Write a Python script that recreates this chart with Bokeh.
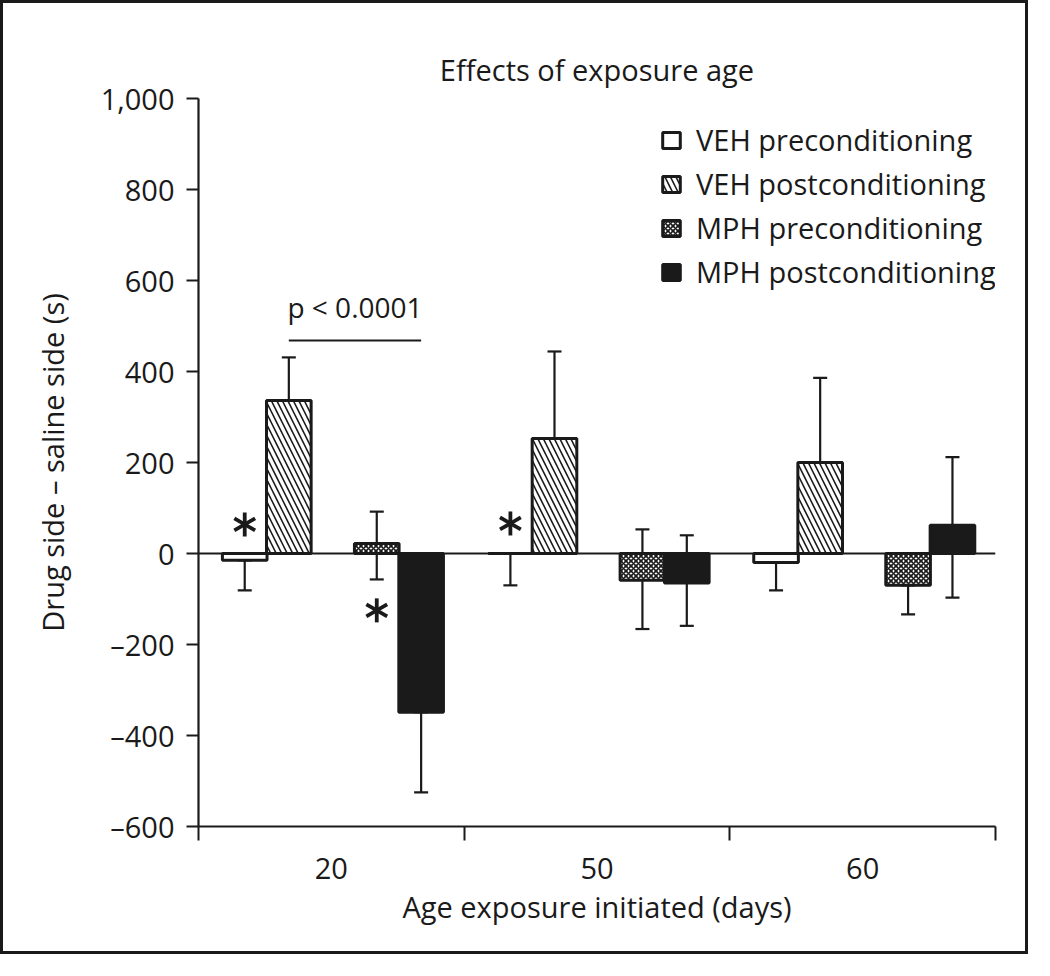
from bokeh.plotting import figure
from bokeh.models import (Range1d, FixedTicker, Legend, LegendItem, Label, Span,
                          ColumnDataSource, Whisker, TeeHead)
from bokeh.embed import file_html
from bokeh.resources import INLINE
import math

# ---------------- data ----------------
ages = ["20", "50", "60"]
series_names = ["VEH preconditioning", "VEH postconditioning",
                "MPH preconditioning", "MPH postconditioning"]
veh_pre = [-15, 0, -20]
veh_post = [336, 253, 200]
mph_pre = [22, -59, -70]
mph_post = [-349, -65, 62]
# error bar ends (upper, lower)
veh_pre_hi = [-15, 0, -20]
veh_pre_lo = [-81, -70, -81]
veh_post_hi = [431, 444, 386]
veh_post_lo = [336, 253, 200]
mph_pre_hi = [92, 53, -70]
mph_pre_lo = [-57, -166, -134]
mph_post_hi = [-349, 40, 212]
mph_post_lo = [-525, -159, -97]
y_ticks = [-600, -400, -200, 0, 200, 400, 600, 800, 1000]
y_tick_labels = ["\u2013600", "\u2013400", "\u2013200", "0", "200", "400", "600", "800", "1,000"]
p_text = "p < 0.0001"
p_bracket_y = 468
star_y = [64, -125, 66]

FONT = "Open Sans"
INK = "#1a1a1a"

p = figure(width=1028, height=954, x_range=Range1d(0, 3), y_range=Range1d(-600, 1000),
           output_backend="svg", toolbar_location=None,
           min_border_left=195, min_border_right=36, min_border_top=95, min_border_bottom=131)
p.styles = {"border": "3px solid #1a1a1a"}
p.outline_line_color = None
p.xgrid.visible = False
p.ygrid.visible = False

p.title.text = "Effects of exposure age"
p.title.align = "center"
p.title.text_font = FONT
p.title.text_font_size = "29px"
p.title.text_font_style = "normal"
p.title.text_color = INK
p.title.standoff = 19

# ---------------- bars ----------------
offsets = [0.174, 0.340, 0.671, 0.838]
bw = 0.168
xs = [[i + off for i in range(len(ages))] for off in offsets]

styles = [
    dict(fill_color="white"),
    dict(fill_color="white", hatch_pattern="\\", hatch_scale=11, hatch_weight=1.6, hatch_color=INK),
    dict(fill_color="white", hatch_pattern="x", hatch_scale=5, hatch_weight=1.7, hatch_color=INK),
    dict(fill_color=INK),
]
vals = [veh_pre, veh_post, mph_pre, mph_post]
his = [veh_pre_hi, veh_post_hi, mph_pre_hi, mph_post_hi]
los = [veh_pre_lo, veh_post_lo, mph_pre_lo, mph_post_lo]

renderers = []
for k in range(4):
    src = ColumnDataSource(dict(x=xs[k], top=vals[k], hi=his[k], lo=los[k]))
    w = Whisker(source=src, base="x", upper="hi", lower="lo", dimension="height",
                line_color=INK, line_width=2.2,
                upper_head=TeeHead(size=14, line_width=2.2, line_color=INK),
                lower_head=TeeHead(size=14, line_width=2.2, line_color=INK),
                level="underlay")
    p.add_layout(w)
    r = p.vbar(x="x", top="top", bottom=0, width=bw, source=src,
               line_color=INK, line_width=3, **styles[k])
    renderers.append(r)

p.add_layout(Span(location=0, dimension="width", line_color=INK, line_width=2.2))

# ---------------- axes ----------------
xa = p.xaxis[0]
xa.ticker = FixedTicker(ticks=[0.5, 1.5, 2.5], minor_ticks=[0, 1, 2, 3])
xa.major_label_overrides = {0.5 + i: a for i, a in enumerate(ages)}
xa.major_tick_out = 0
xa.major_tick_in = 0
xa.minor_tick_out = 14
xa.minor_tick_in = 0
xa.minor_tick_line_width = 2
xa.minor_tick_line_color = INK
xa.axis_line_width = 2.2
xa.axis_line_color = INK
xa.major_label_standoff = 17
xa.major_label_text_font = FONT
xa.major_label_text_font_size = "29px"
xa.major_label_text_color = INK
xa.axis_label = "Age exposure initiated (days)"
xa.axis_label_text_font = FONT
xa.axis_label_text_font_size = "29px"
xa.axis_label_text_font_style = "normal"
xa.axis_label_text_color = INK
xa.axis_label_standoff = 5

ya = p.yaxis[0]
ya.ticker = FixedTicker(ticks=y_ticks, minor_ticks=[])
ya.major_label_overrides = dict(zip(y_ticks, y_tick_labels))
ya.major_tick_out = 12
ya.major_tick_in = 0
ya.major_tick_line_width = 2
ya.major_tick_line_color = INK
ya.axis_line_width = 2.2
ya.axis_line_color = INK
ya.major_label_standoff = 12
ya.major_label_text_font = FONT
ya.major_label_text_font_size = "29px"
ya.major_label_text_color = INK
ya.axis_label = "Drug side \u2013 saline side (s)"
ya.axis_label_text_font = FONT
ya.axis_label_text_font_size = "29px"
ya.axis_label_text_font_style = "normal"
ya.axis_label_text_color = INK
ya.axis_label_standoff = 26

# significance bracket
p.segment(x0=[xs[1][0]], y0=[p_bracket_y], x1=[xs[3][0]], y1=[p_bracket_y],
          line_color=INK, line_width=2)
p.add_layout(Label(x=(xs[1][0] + xs[3][0]) / 2, y=p_bracket_y + 32, text=p_text,
                   text_align="center", text_baseline="bottom", text_font=FONT,
                   text_font_size="28px", text_color=INK))

# asterisks (six-armed, drawn as three rotated strokes)
star_x = [xs[0][0], xs[2][0], xs[0][1]]
for ang in (math.pi / 2, math.pi / 6, -math.pi / 6):
    p.scatter(x=star_x, y=star_y, marker="dash", angle=ang, size=24,
              line_color=INK, line_width=3.8, line_cap="butt")

# ---------------- legend ----------------
legend = Legend(items=[LegendItem(label=n, renderers=[r]) for n, r in zip(series_names, renderers)],
                location=(462, 535), orientation="vertical",
                glyph_width=22, glyph_height=20, label_standoff=14, spacing=5,
                padding=0, margin=0, border_line_alpha=0, background_fill_alpha=0,
                label_text_font=FONT, label_text_font_size="29px", label_text_color=INK,
                label_height=22)
p.add_layout(legend, "center")

open("out.html", "w").write(file_html(p, INLINE))
